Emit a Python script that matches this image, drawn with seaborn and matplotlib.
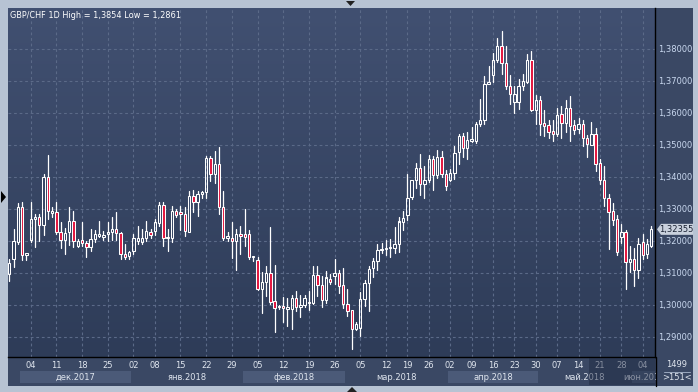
import numpy as np
import pandas as pd
import matplotlib
matplotlib.use("Agg")
import matplotlib.pyplot as plt
import seaborn as sns
from matplotlib.colors import LinearSegmentedColormap
from matplotlib.patches import Rectangle, Polygon
from matplotlib.transforms import blended_transform_factory

# ---------------- data ----------------
opens = [1.3095, 1.3143, 1.3197, 1.3306, 1.3155, 1.3203, 1.3267, 1.3275, 1.3249, 1.3400,
         1.3288, 1.3291, 1.3228, 1.3201, 1.3226, 1.3261, 1.3183, 1.3203, 1.3194, 1.3179,
         1.3205, 1.3216, 1.3213, 1.3221, 1.3226, 1.3236, 1.3224, 1.3157, 1.3151, 1.3169,
         1.3198, 1.3195, 1.3208, 1.3228, 1.3231, 1.3254, 1.3313, 1.3208, 1.3210, 1.3294,
         1.3291, 1.3283, 1.3228, 1.3341, 1.3320, 1.3346, 1.3351, 1.3458, 1.3408, 1.3440,
         1.3306, 1.3208, 1.3210, 1.3200, 1.3221, 1.3221, 1.3221, 1.3148, 1.3141, 1.3049,
         1.3070, 1.3099, 1.3012, 1.2992, 1.2997, 1.2986, 1.2986, 1.3021, 1.2992, 1.3000,
         1.3005, 1.3004, 1.3094, 1.3063, 1.3015, 1.3081, 1.3090, 1.3100, 1.3060, 1.3003,
         1.2982, 1.2925, 1.2928, 1.3019, 1.3069, 1.3116, 1.3136, 1.3172, 1.3174, 1.3176,
         1.3176, 1.3189, 1.3260, 1.3279, 1.3336, 1.3391, 1.3428, 1.3378, 1.3389, 1.3456,
         1.3404, 1.3462, 1.3407, 1.3391, 1.3411, 1.3477, 1.3526, 1.3491, 1.3512, 1.3512,
         1.3564, 1.3578, 1.3691, 1.3719, 1.3766, 1.3807, 1.3755, 1.3682, 1.3635, 1.3635,
         1.3682, 1.3696, 1.3764, 1.3609, 1.3639, 1.3568, 1.3561, 1.3542, 1.3534, 1.3595,
         1.3568, 1.3616, 1.3561, 1.3549, 1.3564, 1.3522, 1.3500, 1.3534, 1.3443, 1.3391,
         1.3334, 1.3292, 1.3269, 1.3211, 1.3226, 1.3133, 1.3142, 1.3107, 1.3195, 1.3159,
         1.3182]
highs = [1.3143, 1.3236, 1.3317, 1.3320, 1.3163, 1.3320, 1.3285, 1.3285, 1.3408, 1.3469,
         1.3304, 1.3320, 1.3257, 1.3240, 1.3306, 1.3294, 1.3204, 1.3257, 1.3200, 1.3236,
         1.3233, 1.3263, 1.3231, 1.3257, 1.3275, 1.3291, 1.3226, 1.3190, 1.3169, 1.3221,
         1.3247, 1.3236, 1.3263, 1.3236, 1.3268, 1.3320, 1.3320, 1.3236, 1.3309, 1.3299,
         1.3309, 1.3304, 1.3356, 1.3358, 1.3354, 1.3356, 1.3466, 1.3466, 1.3481, 1.3492,
         1.3354, 1.3226, 1.3257, 1.3236, 1.3247, 1.3299, 1.3233, 1.3153, 1.3148, 1.3103,
         1.3122, 1.3244, 1.3125, 1.2999, 1.3025, 1.3021, 1.3031, 1.3042, 1.3031, 1.3031,
         1.3042, 1.3122, 1.3122, 1.3091, 1.3106, 1.3095, 1.3144, 1.3109, 1.3116, 1.3050,
         1.2982, 1.2946, 1.3040, 1.3076, 1.3120, 1.3147, 1.3191, 1.3193, 1.3203, 1.3206,
         1.3243, 1.3274, 1.3293, 1.3409, 1.3391, 1.3444, 1.3470, 1.3435, 1.3467, 1.3465,
         1.3484, 1.3479, 1.3420, 1.3425, 1.3495, 1.3534, 1.3536, 1.3540, 1.3555, 1.3571,
         1.3642, 1.3714, 1.3745, 1.3786, 1.3834, 1.3854, 1.3807, 1.3717, 1.3685, 1.3706,
         1.3720, 1.3784, 1.3792, 1.3654, 1.3651, 1.3609, 1.3578, 1.3576, 1.3616, 1.3620,
         1.3641, 1.3651, 1.3578, 1.3584, 1.3578, 1.3530, 1.3571, 1.3553, 1.3456, 1.3435,
         1.3345, 1.3318, 1.3279, 1.3251, 1.3234, 1.3185, 1.3178, 1.3209, 1.3222, 1.3206,
         1.3245]
lows = [1.3075, 1.3117, 1.3190, 1.3141, 1.3141, 1.3195, 1.3181, 1.3200, 1.3219, 1.3268,
        1.3275, 1.3221, 1.3177, 1.3158, 1.3186, 1.3181, 1.3181, 1.3183, 1.3148, 1.3169,
        1.3195, 1.3213, 1.3203, 1.3200, 1.3203, 1.3202, 1.3143, 1.3143, 1.3143, 1.3160,
        1.3190, 1.3190, 1.3200, 1.3210, 1.3218, 1.3247, 1.3184, 1.3169, 1.3195, 1.3273,
        1.3233, 1.3216, 1.3226, 1.3289, 1.3278, 1.3335, 1.3333, 1.3388, 1.3379, 1.3285,
        1.3202, 1.3198, 1.3145, 1.3108, 1.3158, 1.3184, 1.3143, 1.3138, 1.3047, 1.2973,
        1.3026, 1.3002, 1.2914, 1.2986, 1.2945, 1.2934, 1.2924, 1.2979, 1.2961, 1.2992,
        1.2983, 1.3002, 1.3028, 1.2992, 1.3004, 1.3066, 1.3066, 1.3036, 1.2991, 1.2964,
        1.2861, 1.2922, 1.2901, 1.2995, 1.2980, 1.3086, 1.3109, 1.3161, 1.3154, 1.3149,
        1.3163, 1.3165, 1.3232, 1.3266, 1.3331, 1.3365, 1.3342, 1.3334, 1.3383, 1.3359,
        1.3397, 1.3399, 1.3357, 1.3386, 1.3394, 1.3441, 1.3461, 1.3456, 1.3509, 1.3505,
        1.3557, 1.3566, 1.3689, 1.3696, 1.3758, 1.3722, 1.3675, 1.3628, 1.3600, 1.3613,
        1.3672, 1.3693, 1.3605, 1.3566, 1.3529, 1.3526, 1.3522, 1.3511, 1.3527, 1.3522,
        1.3540, 1.3511, 1.3534, 1.3536, 1.3495, 1.3461, 1.3498, 1.3418, 1.3378, 1.3310,
        1.3175, 1.3248, 1.3154, 1.3193, 1.3050, 1.3102, 1.3060, 1.3084, 1.3144, 1.3146,
        1.3180]
closes = [1.3130, 1.3200, 1.3306, 1.3155, 1.3161, 1.3268, 1.3275, 1.3249, 1.3400, 1.3292,
          1.3292, 1.3228, 1.3203, 1.3224, 1.3261, 1.3200, 1.3200, 1.3193, 1.3181, 1.3205,
          1.3221, 1.3221, 1.3219, 1.3228, 1.3236, 1.3224, 1.3158, 1.3150, 1.3166, 1.3208,
          1.3208, 1.3210, 1.3231, 1.3218, 1.3257, 1.3313, 1.3208, 1.3213, 1.3294, 1.3280,
          1.3284, 1.3229, 1.3341, 1.3320, 1.3346, 1.3351, 1.3458, 1.3408, 1.3440, 1.3306,
          1.3207, 1.3216, 1.3200, 1.3221, 1.3214, 1.3211, 1.3148, 1.3151, 1.3049, 1.3072,
          1.3099, 1.3010, 1.2990, 1.2995, 1.2990, 1.2992, 1.3021, 1.2992, 1.3000, 1.3021,
          1.3010, 1.3094, 1.3063, 1.3015, 1.3085, 1.3071, 1.3100, 1.3060, 1.3003, 1.2980,
          1.2925, 1.2939, 1.3019, 1.3069, 1.3112, 1.3136, 1.3172, 1.3174, 1.3177, 1.3178,
          1.3189, 1.3260, 1.3272, 1.3334, 1.3389, 1.3428, 1.3378, 1.3389, 1.3454, 1.3404,
          1.3462, 1.3407, 1.3370, 1.3411, 1.3475, 1.3526, 1.3491, 1.3514, 1.3517, 1.3564,
          1.3578, 1.3691, 1.3696, 1.3766, 1.3807, 1.3755, 1.3682, 1.3657, 1.3659, 1.3682,
          1.3698, 1.3764, 1.3607, 1.3639, 1.3564, 1.3557, 1.3540, 1.3534, 1.3592, 1.3568,
          1.3616, 1.3557, 1.3547, 1.3564, 1.3522, 1.3503, 1.3534, 1.3441, 1.3391, 1.3334,
          1.3290, 1.3266, 1.3165, 1.3226, 1.3133, 1.3143, 1.3107, 1.3189, 1.3156, 1.3189,
          1.32355]

price_ticks = [1.29, 1.30, 1.31, 1.32, 1.33, 1.34, 1.35, 1.36, 1.37, 1.38]
day_labels = ["04", "11", "18", "25", "02", "08", "15", "22", "29", "05", "12", "19", "26",
              "05", "12", "19", "26", "02", "09", "16", "23", "30", "07", "14", "21", "28", "04"]
day_label_bar = [5, 11, 17, 23, 29, 34, 40, 46, 52, 58, 64, 70, 76,
                 82, 88, 93, 98, 103, 108, 113, 118, 123, 128, 133, 138, 143, 148]
month_labels = ["", "дек.2017", "янв.2018", "фев.2018", "мар.2018", "апр.2018", "май.2018", "июн.2018"]
month_first_bar = [0, 3, 29, 55, 79, 103, 124, 146]
title_text = "GBP/CHF 1D High = 1,3854 Low = 1,2861"
last_price = 1.32355
corner_top = "1499"
corner_bottom = ">151<"

# ---------------- figure ----------------
W, H = 698, 392
sns.set_theme(style="dark")
plt.rcParams['font.family'] = ['DejaVu Sans']

fig = plt.figure(figsize=(W / 100, H / 100), dpi=100)
FRAME = "#b7c3d3"
fig.patch.set_facecolor(FRAME)

def fx(px):
    return px / W

def fy(py):
    return 1 - py / H

def frect(x0, y0, x1, y1, **kw):
    r = Rectangle((fx(x0), fy(y1)), fx(x1) - fx(x0), fy(y0) - fy(y1),
                  transform=fig.transFigure, **kw)
    fig.add_artist(r)
    return r

AX_L, AX_R, AX_T, AX_B = 8, 655.3, 8, 357
# panel backgrounds (right price strip and bottom time strip)
frect(8, 8, 693, 386, facecolor="#3a4864", edgecolor="none", zorder=0)

ax = fig.add_axes([fx(AX_L), fy(AX_B), fx(AX_R) - fx(AX_L), fy(AX_T) - fy(AX_B)])
ax.set_facecolor("#34425e")

# gradient background
cmap = LinearSegmentedColormap.from_list("bg", ["#415071", "#2e3c58"])
ax.imshow(np.linspace(0, 1, 256).reshape(-1, 1), cmap=cmap, extent=[0, 1, 0, 1],
          transform=ax.transAxes, aspect="auto", zorder=0, interpolation="bilinear")

n = len(opens)
idx = np.arange(n)
df = pd.DataFrame({"i": idx, "o": opens, "h": highs, "l": lows, "c": closes})
df["top"] = df[["o", "c"]].max(axis=1)
df["bot"] = df[["o", "c"]].min(axis=1)

# grid
GRID = "#5b6a88"
for p in price_ticks:
    ax.axhline(p, color=GRID, lw=0.8, ls=(0, (2.5, 2.5)), zorder=1)
for b in day_label_bar:
    ax.axvline(b, color=GRID, lw=0.8, ls=(0, (2.5, 2.5)), zorder=1)

# wicks (upper and lower segments) with seaborn
rows = []
for r in df.itertuples():
    rows.append((r.i, r.h, 2 * r.i))
    rows.append((r.i, r.top, 2 * r.i))
    rows.append((r.i, r.bot, 2 * r.i + 1))
    rows.append((r.i, r.l, 2 * r.i + 1))
wick_df = pd.DataFrame(rows, columns=["x", "y", "seg"])
sns.lineplot(data=wick_df, x="x", y="y", units="seg", estimator=None, sort=False,
             color="white", lw=0.9, ax=ax, zorder=3, legend=False)

# bodies
RED = "#e3163f"
heights = np.maximum(df["top"] - df["bot"], 0.00035)
face = [RED if c < o else "none" for o, c in zip(df["o"], df["c"])]
ax.bar(df["i"], heights, bottom=df["bot"], width=0.55, color=face,
       edgecolor="white", linewidth=0.75, zorder=4)

ylo = 1.38 - (AX_B - 48.7) / 3200
yhi = 1.38 + (48.7 - AX_T) / 3200
ax.set_ylim(ylo, yhi)
ax.set_xlim(-0.3, 150.93)

# right price axis
ax.yaxis.tick_right()
ax.set_yticks(price_ticks)
ax.set_yticklabels([f"{p:.5f}".replace(".", ",") for p in price_ticks])
ax.tick_params(axis="y", length=0, pad=2.2, labelsize=6.0, labelcolor="#c9d8ef")
ax.set_xticks(day_label_bar)
ax.set_xticklabels(day_labels)
ax.tick_params(axis="x", length=0, pad=3.2, labelsize=6.0, labelcolor="#dfe5ee")
ax.set_xlabel("")
ax.set_ylabel("")
for s in ["top", "left"]:
    ax.spines[s].set_visible(False)
ax.spines["right"].set_color("black")
ax.spines["right"].set_linewidth(1.0)
ax.spines["bottom"].set_color("black")
ax.spines["bottom"].set_linewidth(1.0)
ax.grid(False)

# title
ax.text(fx(10 - AX_L) / (fx(AX_R) - fx(AX_L)), 1 - (15 - AX_T) / (AX_B - AX_T), title_text,
        transform=ax.transAxes, color="white", fontsize=5.9, va="center", ha="left", zorder=6)

# month bands / labels in the time strip
bt = blended_transform_factory(ax.transData, fig.transFigure)
x_right = 150.93
bounds = list(month_first_bar) + [x_right + 0.5]
for k, name in enumerate(month_labels):
    a = max(bounds[k] - 0.5, -0.3)
    b = min(bounds[k + 1] - 0.5, x_right)
    if k % 2 == 1:
        fig.add_artist(Rectangle((a, fy(383)), b - a, fy(371) - fy(383), transform=bt,
                                 facecolor="#4b5a78", edgecolor="none", zorder=1))
    if name:
        t = fig.text((a + b) / 2, fy(377), name, transform=bt, ha="center", va="center",
                     fontsize=6.0, color="#dfe5ee", zorder=2)

# dim overlay for latest bars in the time strip
fig.add_artist(Rectangle((135.4, fy(385)), x_right - 135.4, fy(358) - fy(385), transform=bt,
                         facecolor="#1c2740", alpha=0.45, edgecolor="none", zorder=3))
# re-cover right panel so clipped june label is hidden
frect(656, 357.5, 693, 386, facecolor="#3a4864", edgecolor="none", zorder=4)
fig.add_artist(plt.Line2D([fx(655.5), fx(655.5)], [fy(357), fy(386)], transform=fig.transFigure,
                          color="black", lw=1.0, zorder=5))

# corner box
fig.text(fx(677), fy(364.5), corner_top, ha="center", va="center", fontsize=6.0,
         color="#dfe5ee", zorder=6)
fig.add_artist(plt.Line2D([fx(664), fx(690)], [fy(371.5), fy(371.5)], transform=fig.transFigure,
                          color="#9aa8bf", lw=0.7, zorder=6))
fig.text(fx(677), fy(377.5), corner_bottom, ha="center", va="center", fontsize=6.0,
         color="#dfe5ee", zorder=6)

# last price tag
yp = ax.transData.transform((0, last_price))[1]
ypf = fig.transFigure.inverted().transform((0, yp))[1]
hh = 5.5 / H
fig.add_artist(Polygon([[fx(657), ypf], [fx(661), ypf + hh], [fx(693), ypf + hh],
                        [fx(693), ypf - hh], [fx(661), ypf - hh]], closed=True,
                       transform=fig.transFigure, facecolor="#c9d1dd", edgecolor="none", zorder=7))
fig.text(fx(676.5), ypf, f"{last_price:.5f}".replace(".", ","), ha="center", va="center",
         fontsize=6.0, color="#1a2233", zorder=8)

# frame triangles
fig.add_artist(Polygon([[fx(1), fy(191)], [fx(6), fy(197)], [fx(1), fy(203)]],
                       transform=fig.transFigure, facecolor="black", edgecolor="none"))
fig.add_artist(Polygon([[fx(346), fy(1)], [fx(355), fy(1)], [fx(350.5), fy(6)]],
                       transform=fig.transFigure, facecolor="#222", edgecolor="none"))
fig.add_artist(Polygon([[fx(347), fy(392)], [fx(357), fy(392)], [fx(352), fy(387)]],
                       transform=fig.transFigure, facecolor="#222", edgecolor="none"))

fig.savefig("out.png", dpi=100, facecolor=FRAME)
